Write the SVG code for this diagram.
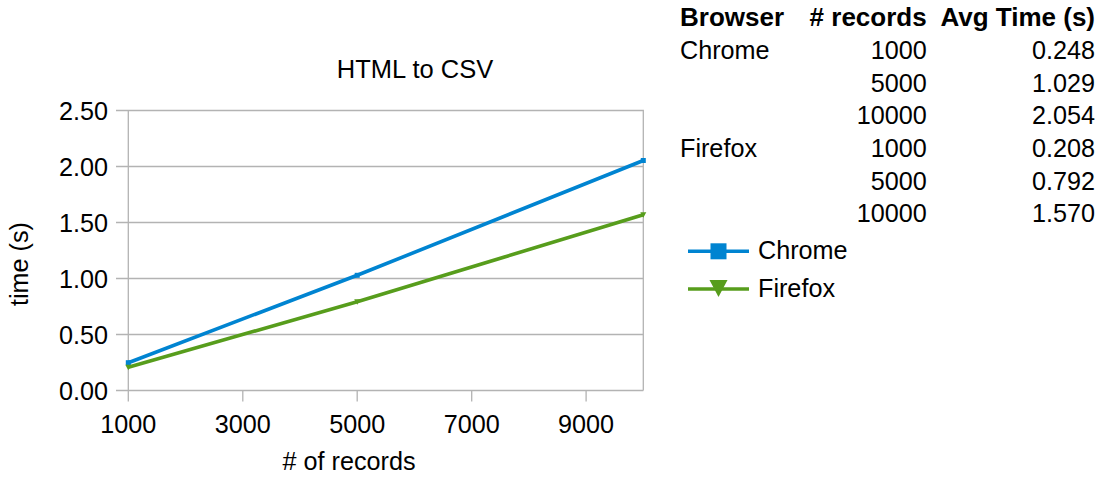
<svg xmlns="http://www.w3.org/2000/svg" width="1103" height="486" viewBox="0 0 1103 486">
<style>
text{font-family:"Liberation Sans",Arial,sans-serif;font-size:25.2px;fill:#000}
.b{font-weight:bold;font-size:26px}
.r{text-anchor:end}
.m{text-anchor:middle}
.grid{stroke:#b3b3b3;stroke-width:1.3;fill:none}
.chrome{stroke:#0084d1;stroke-width:3.6;fill:none;stroke-linejoin:round}
.firefox{stroke:#579d1c;stroke-width:3.6;fill:none;stroke-linejoin:round}
.cm{fill:#0084d1}
.fm{fill:#579d1c}
</style>
<defs>
<rect id="sq" x="-2.5" y="-2.5" width="5" height="5"/>
<polygon id="tri" points="-3,-2.5 3,-2.5 0,3"/>
</defs>
<rect width="1103" height="486" fill="#fff"/>
<g id="chart-title"><text class="m" x="415" y="78" style="font-size:25.5px">HTML to CSV</text></g>
<g id="plot-area">
<path class="grid" d="M116 110.5H643.3V390.5M116 166.5H643.3M116 222.5H643.3M116 278.5H643.3M116 334.5H643.3M116 390.5H643.3M128.3 110.5V401.5M242.8 390.5V401.5M357.2 390.5V401.5M471.7 390.5V401.5M586.1 390.5V401.5"/>
</g>
<g id="y-axis">
<text class="r" x="108" y="119.5">2.50</text>
<text class="r" x="108" y="175.5">2.00</text>
<text class="r" x="108" y="231.5">1.50</text>
<text class="r" x="108" y="287.5">1.00</text>
<text class="r" x="108" y="343.5">0.50</text>
<text class="r" x="108" y="399.5">0.00</text>
<text class="m" transform="translate(28 264) rotate(-90)">time (s)</text>
</g>
<g id="x-axis">
<text class="m" x="128.3" y="433">1000</text>
<text class="m" x="242.8" y="433">3000</text>
<text class="m" x="357.2" y="433">5000</text>
<text class="m" x="471.7" y="433">7000</text>
<text class="m" x="586.1" y="433">9000</text>
<text class="m" x="349" y="470"># of records</text>
</g>
<g id="connectors">
<polyline id="series-chrome" class="chrome" points="128.3,362.7 357.2,275.3 643.3,160.5"/>
<polyline id="series-firefox" class="firefox" points="128.3,367.2 357.2,301.8 643.3,214.7"/>
<use href="#sq" class="cm" x="128.3" y="362.7"/>
<use href="#sq" class="cm" x="357.2" y="275.3"/>
<use href="#sq" class="cm" x="643.3" y="160.5"/>
<use href="#tri" class="fm" x="128.3" y="367.2"/>
<use href="#tri" class="fm" x="357.2" y="301.8"/>
<use href="#tri" class="fm" x="643.3" y="214.7"/>
</g>
<g id="data-table">
<text class="b" x="680" y="26.2">Browser</text>
<text class="b r" x="926.7" y="26.2"># records</text>
<text class="b r" x="1095" y="26.2">Avg Time (s)</text>
<text x="680" y="58.9">Chrome</text>
<text class="r" x="926.7" y="58.9">1000</text>
<text class="r" x="1095" y="58.9">0.248</text>
<text class="r" x="926.7" y="91.6">5000</text>
<text class="r" x="1095" y="91.6">1.029</text>
<text class="r" x="926.7" y="124.3">10000</text>
<text class="r" x="1095" y="124.3">2.054</text>
<text x="680" y="157">Firefox</text>
<text class="r" x="926.7" y="157">1000</text>
<text class="r" x="1095" y="157">0.208</text>
<text class="r" x="926.7" y="189.7">5000</text>
<text class="r" x="1095" y="189.7">0.792</text>
<text class="r" x="926.7" y="222.4">10000</text>
<text class="r" x="1095" y="222.4">1.570</text>
</g>
<g id="legend">
<g id="legend-chrome">
<line class="chrome" x1="688" y1="251.3" x2="749" y2="251.3" stroke-width="3.3"/>
<rect x="710.5" y="243.3" width="16" height="16" fill="#0084d1"/>
<text x="758" y="259">Chrome</text>
</g>
<g id="legend-firefox">
<line class="firefox" x1="688" y1="289" x2="749" y2="289" stroke-width="3.3"/>
<polygon points="709.5,280 727.5,280 718.5,297" fill="#579d1c"/>
<text x="758" y="297">Firefox</text>
</g>
</g>
</svg>
